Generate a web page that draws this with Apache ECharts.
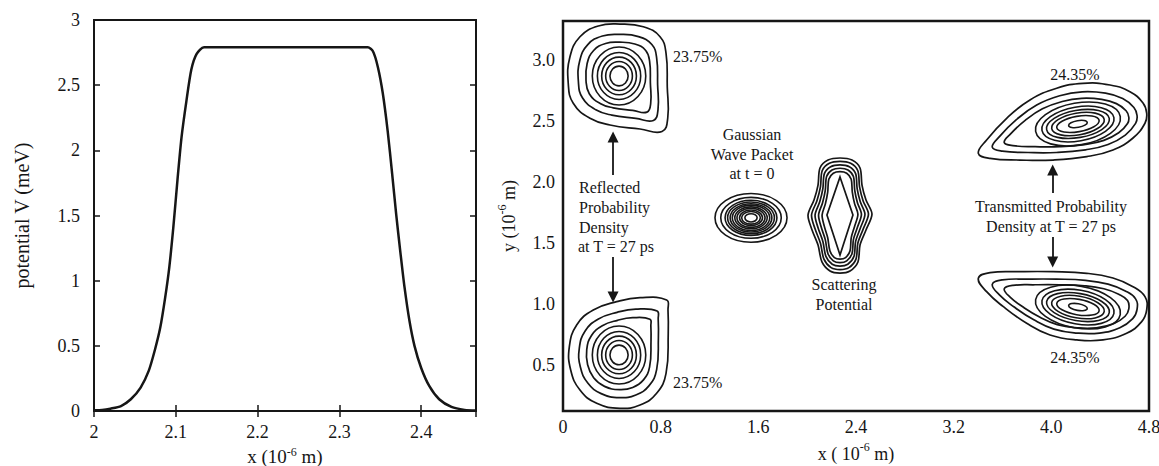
<!DOCTYPE html>
<html><head><meta charset="utf-8">
<script src="https://cdn.jsdelivr.net/npm/echarts@6/dist/echarts.min.js"></script>
<style>html,body{margin:0;padding:0;background:#fff}#c{width:1159px;height:466px}</style>
</head><body><div id="c"></div>
<script>
const FONT = '"Liberation Serif", "Times New Roman", serif';
const INK = '#161616';

// ---------- left panel: potential profile ----------
const POT_X = [2.000,2.010,2.020,2.033,2.045,2.057,2.067,2.0745,2.081,2.087,2.092,2.097,2.102,2.107,2.113,2.119,2.1255,2.1345,
               2.3347,2.341,2.347,2.353,2.359,2.3645,2.3694,2.3747,2.3796,2.3857,2.3918,2.400,2.410,2.422,2.437,2.453,2.467];
const POT_V = [0.005,0.008,0.018,0.038,0.09,0.18,0.31,0.47,0.64,0.87,1.10,1.41,1.77,2.10,2.38,2.62,2.74,2.79,
               2.79,2.76,2.64,2.44,2.15,1.82,1.51,1.21,0.95,0.69,0.50,0.33,0.19,0.09,0.031,0.008,0.003];

// ---------- right panel: outer contour outlines (x, y in 10^-6 m) ----------
const UL_OUTLINE = [[0.858,2.524],[0.811,2.413],[0.631,2.434],[0.385,2.467],[0.221,2.522],[0.084,2.645],[0.043,2.809],[0.057,3.027],
                    [0.139,3.191],[0.289,3.279],[0.467,3.295],[0.658,3.273],[0.795,3.191],[0.844,3.055],[0.854,2.781]];
const UL_CENTER = [0.459,2.869];
const LL_OUTLINE = [[0.849,1.031],[0.631,1.050],[0.440,1.017],[0.248,0.949],[0.112,0.826],[0.052,0.648],[0.063,0.456],[0.139,0.292],
                    [0.276,0.183],[0.467,0.142],[0.631,0.169],[0.767,0.265],[0.844,0.429],[0.862,0.758],[0.860,0.949]];
const LL_CENTER = [0.459,0.580];
const REFL_OUTER_LEVELS = [[1,1],[0.80,0.80],[0.65,0.65]];
const REFL_CORE_RADII = [0.219,0.238];
const REFL_CORE_LEVELS = [[1,1],[0.81,0.81],[0.65,0.65],[0.50,0.50],[0.34,0.34]];

const GAUSS_CENTER = [1.540,1.705];
const GAUSS_RADII = [0.295,0.200];
const GAUSS_LEVELS = [[1,1],[0.84,0.84],[0.72,0.72],[0.65,0.65],[0.58,0.58],[0.52,0.52],[0.45,0.45],[0.39,0.39],[0.32,0.32],[0.26,0.26],[0.17,0.17]];

const SCAT_OUTLINE = [[2.269,2.196],[2.367,2.179],[2.433,2.114],[2.449,1.974],[2.482,1.851],[2.531,1.736],[2.482,1.605],[2.433,1.482],
                      [2.416,1.343],[2.351,1.269],[2.269,1.252],[2.187,1.269],[2.121,1.343],[2.089,1.482],[2.040,1.605],[2.007,1.728],
                      [2.056,1.851],[2.089,1.974],[2.105,2.114],[2.171,2.179]];
const SCAT_CENTER = [2.269,1.728];
const SCAT_LEVELS = [[1,1],[0.89,0.94],[0.78,0.88],[0.67,0.82],[0.56,0.76]];
const SCAT_CORE = [[2.269,2.040],[2.375,1.728],[2.269,1.400],[2.162,1.728]];

const TU_OUTLINE = [[3.402,2.234],[3.498,2.193],[3.743,2.179],[4.014,2.179],[4.290,2.207],[4.505,2.262],[4.669,2.360],[4.767,2.481],
                    [4.781,2.563],[4.751,2.647],[4.644,2.740],[4.481,2.795],[4.259,2.809],[4.044,2.768],[3.825,2.672],[3.634,2.522],[3.470,2.344]];
const TU_CENTER = [4.218,2.475];
const TL_OUTLINE = [[3.402,1.209],[3.498,1.255],[3.743,1.263],[4.014,1.263],[4.290,1.250],[4.505,1.211],[4.669,1.140],[4.767,1.058],
                    [4.781,0.949],[4.740,0.853],[4.617,0.758],[4.423,0.703],[4.208,0.703],[3.989,0.744],[3.798,0.840],[3.607,0.976],[3.470,1.099]];
const TL_CENTER = [4.218,0.973];
const TRANS_OUTER_LEVELS = [[1,1],[0.86,0.79],[0.74,0.63]];
const TRANS_CORE_RADII = [0.352,0.172];
const TRANS_CORE_LEVELS = [[1,1],[0.85,0.81],[0.74,0.65],[0.62,0.52],[0.50,0.37],[0.22,0.16]];
const TRANS_TILT_DEG = [10,-10];

// ---------- annotations ----------
const ANNOT_TEXT  = ['23.75%','23.75%','24.35%','24.35%','Gaussian','Wave Packet','at t = 0','Reflected','Probability','Density','at T = 27 ps',
                     'Scattering','Potential','Transmitted Probability','Density at T = 27 ps'];
const ANNOT_X     = [0.901,0.901,4.194,4.194,1.548,1.548,1.548,0.131,0.131,0.131,0.123,2.302,2.302,3.997,3.997];
const ANNOT_Y     = [3.025,0.350,2.885,0.563,2.385,2.221,2.065,1.950,1.786,1.622,1.466,1.154,0.990,1.794,1.630];
const ANNOT_ALIGN = ['left','left','center','center','center','center','center','left','left','left','left','center','center','center','center'];
const ARROWS = [
  [[0.410,2.056],[0.410,2.368]],
  [[0.410,1.384],[0.410,1.055]],
  [[4.011,1.909],[4.011,2.097]],
  [[4.011,1.548],[4.011,1.343]]
];

const blobs = [
  {outline: UL_OUTLINE, center: UL_CENTER, levels: REFL_OUTER_LEVELS, smooth: 0.45},
  {outline: LL_OUTLINE, center: LL_CENTER, levels: REFL_OUTER_LEVELS, smooth: 0.45},
  {outline: SCAT_OUTLINE, center: SCAT_CENTER, levels: SCAT_LEVELS, smooth: 0.3},
  {outline: SCAT_CORE, center: SCAT_CENTER, levels: [[1,1]], smooth: 0},
  {outline: TU_OUTLINE, center: TU_CENTER, levels: TRANS_OUTER_LEVELS, smooth: 0.45},
  {outline: TL_OUTLINE, center: TL_CENTER, levels: TRANS_OUTER_LEVELS, smooth: 0.45}
];
const cores = [
  {center: UL_CENTER, radii: REFL_CORE_RADII, levels: REFL_CORE_LEVELS, tilt: 0},
  {center: LL_CENTER, radii: REFL_CORE_RADII, levels: REFL_CORE_LEVELS, tilt: 0},
  {center: GAUSS_CENTER, radii: GAUSS_RADII, levels: GAUSS_LEVELS, tilt: 0},
  {center: TU_CENTER, radii: TRANS_CORE_RADII, levels: TRANS_CORE_LEVELS, tilt: TRANS_TILT_DEG[0]},
  {center: TL_CENTER, radii: TRANS_CORE_RADII, levels: TRANS_CORE_LEVELS, tilt: TRANS_TILT_DEG[1]}
];
const polyItems = [];
blobs.forEach((b, bi) => b.levels.forEach((lv, li) => polyItems.push({bi, li})));
const coreItems = [];
cores.forEach((c, ci) => c.levels.forEach((lv, li) => coreItems.push({ci, li})));

function renderContour(params, api) {
  const it = polyItems[params.dataIndex];
  const b = blobs[it.bi], lv = b.levels[it.li];
  const c = api.coord(b.center);
  const pts = b.outline.map(p => {
    const q = api.coord(p);
    return [c[0] + (q[0] - c[0]) * lv[0], c[1] + (q[1] - c[1]) * lv[1]];
  });
  return {type: 'polygon', shape: {points: pts, smooth: b.smooth},
          style: {fill: 'none', stroke: INK, lineWidth: 1.7}};
}
function renderCore(params, api) {
  const it = coreItems[params.dataIndex];
  const k = cores[it.ci], lv = k.levels[it.li];
  const c = api.coord(k.center);
  const s = api.size(k.radii);
  return {type: 'ellipse', x: c[0], y: c[1], rotation: k.tilt * Math.PI / 180,
          shape: {cx: 0, cy: 0, rx: s[0] * lv[0], ry: s[1] * lv[1]},
          style: {fill: 'none', stroke: INK, lineWidth: 1.6}};
}
function renderText(params, api) {
  const i = params.dataIndex;
  const p = api.coord([ANNOT_X[i], ANNOT_Y[i]]);
  return {type: 'text', x: p[0], y: p[1],
          style: {text: ANNOT_TEXT[i], fill: INK, fontFamily: FONT, fontSize: 16,
                  align: ANNOT_ALIGN[i], verticalAlign: 'middle'}};
}

const tickStyle = {inside: true, length: 6, lineStyle: {color: INK, width: 1.5}};
const labelFont = {fontFamily: FONT, fontSize: 18, color: INK};
const supRich = {sup: {fontFamily: FONT, fontSize: 12, lineHeight: 12, verticalAlign: 'top', color: INK}};

const chart = echarts.init(document.getElementById('c'), null, {renderer: 'svg'});
chart.setOption({
  animation: false,
  backgroundColor: '#fff',
  grid: [
    {left: 94, top: 20, width: 382, height: 391, show: true, borderColor: INK, borderWidth: 2, backgroundColor: 'transparent',
     containLabel: false, outerBoundsMode: 'none'},
    {left: 563, top: 21, width: 586, height: 390, show: true, borderColor: INK, borderWidth: 2.5, backgroundColor: 'transparent',
     containLabel: false, outerBoundsMode: 'none'}
  ],
  xAxis: [
    {gridIndex: 0, type: 'value', min: 2, max: 2.467, interval: 0.1, position: 'bottom',
     axisLine: {show: false}, axisTick: tickStyle, splitLine: {show: false},
     axisLabel: Object.assign({margin: 12, showMaxLabel: false}, labelFont),
     name: 'x (10{sup|-6} m)', nameLocation: 'middle', nameGap: 31,
     nameTextStyle: {fontFamily: FONT, fontSize: 19, color: INK, lineHeight: 22, rich: supRich}},
    {gridIndex: 0, type: 'value', min: 2, max: 2.467, interval: 0.1, position: 'top',
     axisLine: {show: false}, axisTick: tickStyle, splitLine: {show: false}, axisLabel: {show: false}},
    {gridIndex: 1, type: 'value', min: 0, max: 4.8, interval: 0.8, position: 'bottom',
     axisLine: {show: false}, axisTick: {show: false}, splitLine: {show: false},
     axisLabel: Object.assign({margin: 7, formatter: v => v === 0 ? '0' : v.toFixed(1)}, labelFont),
     name: 'x ( 10{sup|-6} m)', nameLocation: 'middle', nameGap: 26,
     nameTextStyle: {fontFamily: FONT, fontSize: 18, color: INK, lineHeight: 26, rich: supRich}}
  ],
  yAxis: [
    {gridIndex: 0, type: 'value', min: 0, max: 3, interval: 0.5, position: 'left',
     axisLine: {show: false}, axisTick: tickStyle, splitLine: {show: false},
     axisLabel: Object.assign({margin: 14}, labelFont),
     name: 'potential V (meV)', nameLocation: 'middle', nameGap: 61,
     nameTextStyle: {fontFamily: FONT, fontSize: 20, color: INK, lineHeight: 22}},
    {gridIndex: 0, type: 'value', min: 0, max: 3, interval: 0.5, position: 'right',
     axisLine: {show: false}, axisTick: tickStyle, splitLine: {show: false}, axisLabel: {show: false}},
    {gridIndex: 1, type: 'value', min: 0.12, max: 3.32, position: 'left',
     axisLine: {show: false}, axisTick: {show: false}, splitLine: {show: false},
     axisLabel: Object.assign({margin: 8, showMinLabel: false, showMaxLabel: false, formatter: v => v.toFixed(1)}, labelFont),
     name: 'y (10{sup|-6} m)', nameLocation: 'middle', nameGap: 37,
     nameTextStyle: {fontFamily: FONT, fontSize: 18, color: INK, lineHeight: 26, rich: supRich}}
  ],
  series: [
    {type: 'line', xAxisIndex: 0, yAxisIndex: 0, data: POT_X.map((x, i) => [x, POT_V[i]]),
     showSymbol: false, smooth: 0.25, lineStyle: {color: INK, width: 2.5}, z: 3},
    {type: 'custom', xAxisIndex: 2, yAxisIndex: 2, renderItem: renderContour,
     data: polyItems.map(it => blobs[it.bi].center.slice()), z: 3},
    {type: 'custom', xAxisIndex: 2, yAxisIndex: 2, renderItem: renderCore,
     data: coreItems.map(it => cores[it.ci].center.slice()), z: 3},
    {type: 'custom', xAxisIndex: 2, yAxisIndex: 2, renderItem: renderText,
     data: ANNOT_X.map((x, i) => [x, ANNOT_Y[i]]), z: 4},
    {type: 'lines', coordinateSystem: 'cartesian2d', xAxisIndex: 2, yAxisIndex: 2,
     symbol: ['none', 'triangle'], symbolSize: [8, 11], color: INK,
     itemStyle: {color: INK},
     lineStyle: {color: INK, width: 1.8, opacity: 1, curveness: 0},
     data: ARROWS.map(a => ({coords: a})), z: 4}
  ]
});
</script></body></html>
